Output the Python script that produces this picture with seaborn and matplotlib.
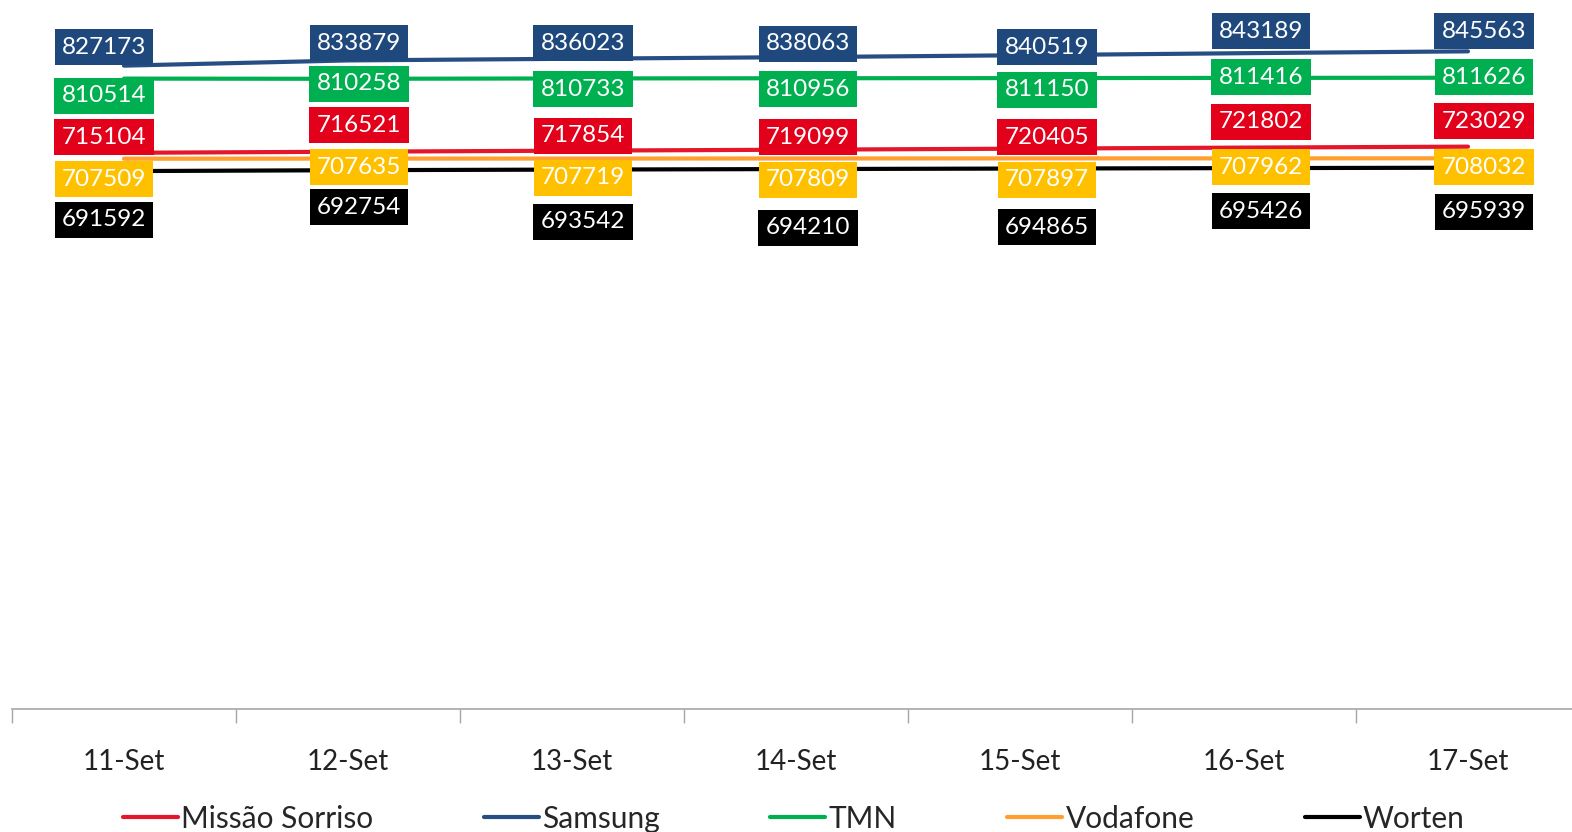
import pandas as pd
import matplotlib.pyplot as plt
import seaborn as sns

# -------- data --------
days = ["11-Set", "12-Set", "13-Set", "14-Set", "15-Set", "16-Set", "17-Set"]
series_names = ["Missão Sorriso", "Samsung", "TMN", "Vodafone", "Worten"]
missao = [715104, 716521, 717854, 719099, 720405, 721802, 723029]
samsung = [827173, 833879, 836023, 838063, 840519, 843189, 845563]
tmn = [810514, 810258, 810733, 810956, 811150, 811416, 811626]
vodafone = [707509, 707635, 707719, 707809, 707897, 707962, 708032]
worten = [691592, 692754, 693542, 694210, 694865, 695426, 695939]

# label box placement (pixel rows of box centres, pixel shift from category centre)
rows_missao = [135, 123, 134, 135, 135, 120, 119]
rows_samsung = [45, 41, 41, 42, 45, 29, 29]
rows_tmn = [94, 82, 87, 87, 88, 75, 75]
rows_vodafone = [177, 165, 176, 178, 178, 165, 165]
rows_worten = [218, 205, 220, 226, 225, 209, 210]
label_dx = [-20, 11, 11, 12, 27, 17, 16]

line_colors = ["#E5152A", "#264E85", "#00B050", "#FF9F2F", "#000000"]
box_colors = ["#E2001A", "#1F497D", "#00B050", "#FFC000", "#000000"]

values = [missao, samsung, tmn, vodafone, worten]
rows = [rows_missao, rows_samsung, rows_tmn, rows_vodafone, rows_worten]

df = pd.DataFrame({
    "pos": list(range(len(days))) * len(series_names),
    "value": [v for s in values for v in s],
    "series": [n for n in series_names for _ in days],
})

sns.set_style("white")
plt.rcParams["font.family"] = ["Lato", "DejaVu Sans"]

W, H = 1572, 832
fig = plt.figure(figsize=(W / 100, H / 100), dpi=100)
# plot area: x from 12 px to 1580 px (runs past the right edge), y from row 9 to row 709
ax = fig.add_axes([12 / W, (H - 709) / H, 1568 / W, 700 / H])

sns.lineplot(data=df, x="pos", y="value", hue="series", hue_order=series_names,
             palette=line_colors, linewidth=3, ax=ax, legend=True)

ax.set_xlim(-0.5, len(days) - 0.5)
ax.set_ylim(0, 900000)
ax.set_xlabel("")
ax.set_ylabel("")
ax.set_yticks([])

# boundary ticks + centred category labels
ax.set_xticks([i - 0.5 for i in range(len(days) + 1)])
ax.set_xticklabels([])
ax.set_xticks(range(len(days)), minor=True)
ax.set_xticklabels(days, minor=True, fontsize=20, color="#222222")
ax.tick_params(axis="x", which="major", length=10, width=1, color="#A6A6A6",
               direction="out", bottom=True)
ax.tick_params(axis="x", which="minor", length=0, pad=29)

for side in ["left", "top", "right"]:
    ax.spines[side].set_visible(False)
ax.spines["bottom"].set_color("#A6A6A6")
ax.spines["bottom"].set_linewidth(1.2)

# value labels in coloured boxes
xt = ax.get_xaxis_transform()
for s, name in enumerate(series_names):
    for i, v in enumerate(values[s]):
        ax.text(i + label_dx[i] / 224, (707 - rows[s][i]) / 700, f"{v}",
                transform=xt, ha="center", va="center", fontsize=17.5, color="white",
                bbox=dict(boxstyle="square,pad=0.3", fc=box_colors[s], ec="none"),
                zorder=5)

handles, labels = ax.get_legend_handles_labels()
ax.get_legend().remove()
for h in handles:
    h.set_linewidth(3)
fig.legend(handles, labels, loc="center", bbox_to_anchor=(0.505, 0.016), ncol=5,
           frameon=False, fontsize=21.5, handlelength=1.85, handletextpad=0.1,
           columnspacing=3.7)

fig.savefig("out.png", dpi=100)
